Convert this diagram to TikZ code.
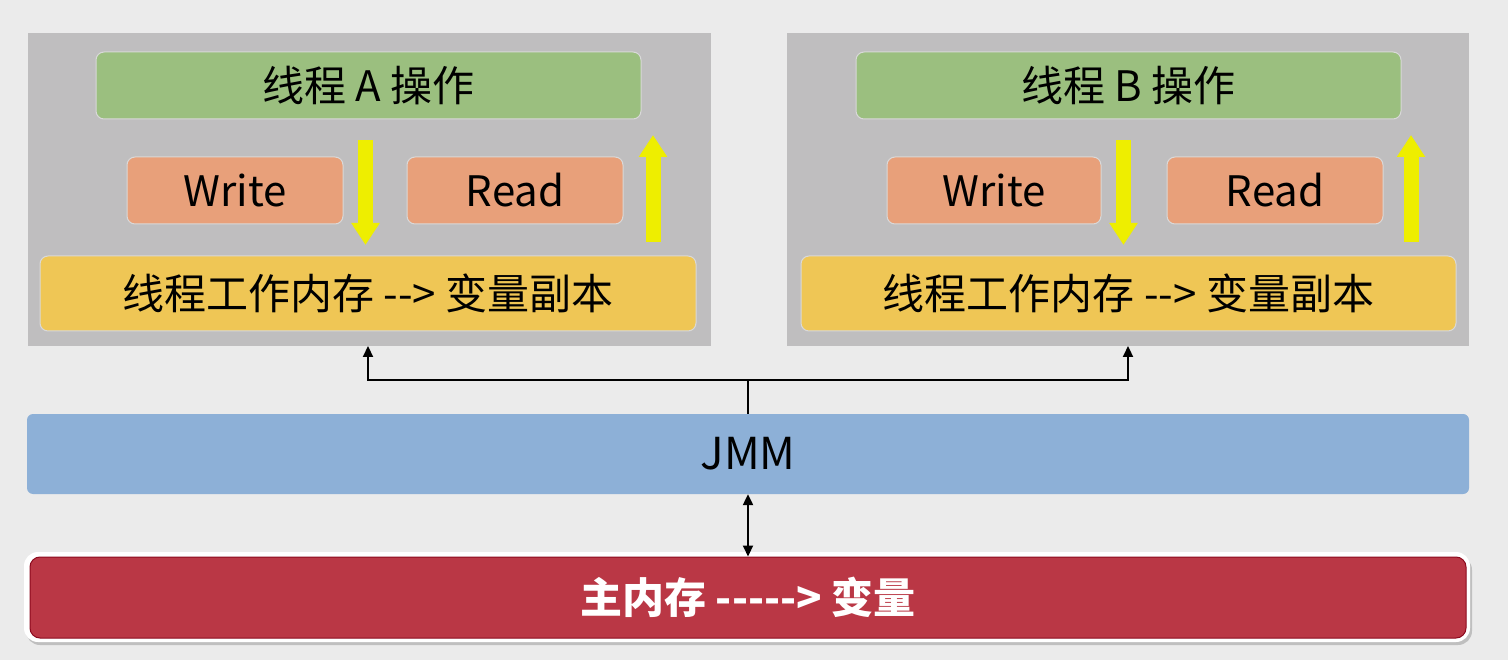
\documentclass[tikz,border=0pt]{standalone}
\usepackage{fontspec}
\setmainfont{Noto Sans CJK SC}
\usetikzlibrary{arrows.meta,calc}
\definecolor{bg}{RGB}{235,235,235}
\definecolor{panel}{RGB}{191,190,191}
\definecolor{grn}{RGB}{155,191,127}
\definecolor{org}{RGB}{232,160,122}
\definecolor{ylw}{RGB}{239,198,85}
\definecolor{arr}{RGB}{238,238,0}
\definecolor{blu}{RGB}{141,176,215}
\definecolor{red}{RGB}{186,55,69}
\definecolor{dred}{RGB}{140,10,30}
\tikzset{
  x=1pt,y=-1pt,
  panelbox/.style={fill=panel,draw=none},
  boxbase/.style={rounded corners=8pt,draw=white!85!black,line width=1pt,text=black},
  greenbox/.style={boxbase,fill=grn,font=\fontsize{42}{46}\selectfont},
  opbox/.style={boxbase,fill=org,font=\fontsize{42}{46}\selectfont},
  ylwbox/.style={boxbase,fill=ylw,font=\fontsize{42}{46}\selectfont},
  yarrow/.style={draw=arr,line width=15pt,-{Triangle[width=27pt,length=22pt]}},
  conn/.style={draw=black,line width=2.2pt},
  tip/.style={-{Triangle[width=10pt,length=11pt]}},
}
\begin{document}
\begin{tikzpicture}
\useasboundingbox[fill=bg] (0,0) rectangle (1508,660);
% panels
\fill[panelbox] (28,33) rectangle (711,346);
\fill[panelbox] (787,33) rectangle (1469,346);
\coordinate (pA) at (368,346);
\coordinate (pB) at (1128,346);
% left panel
\node[greenbox,minimum width=545pt,minimum height=67pt] (gA) at (368.5,85.5) {线程 A 操作};
\node[opbox,minimum width=216pt,minimum height=67pt] (wA) at (235,190.5) {Write};
\node[opbox,minimum width=216pt,minimum height=67pt] (rA) at (515,190.5) {Read};
\node[ylwbox,minimum width=656pt,minimum height=75pt] (yA) at (368,293.5) {线程工作内存 -{}-> 变量副本};
\coordinate (dA1) at (365.5,140);
\coordinate (dA2) at (365.5,245);
\coordinate (uA1) at (653,242);
\coordinate (uA2) at (653,135);
\draw[yarrow] (dA1) -- (dA2);
\draw[yarrow] (uA1) -- (uA2);
% right panel
\node[greenbox,minimum width=545pt,minimum height=67pt] (gB) at (1128.5,85.5) {线程 B 操作};
\node[opbox,minimum width=214pt,minimum height=67pt] (wB) at (994,190.5) {Write};
\node[opbox,minimum width=216pt,minimum height=67pt] (rB) at (1275,190.5) {Read};
\node[ylwbox,minimum width=655pt,minimum height=75pt] (yB) at (1128.5,293.5) {线程工作内存 -{}-> 变量副本};
\coordinate (dB1) at (1123.5,140);
\coordinate (dB2) at (1123.5,245);
\coordinate (uB1) at (1411,242);
\coordinate (uB2) at (1411,135);
\draw[yarrow] (dB1) -- (dB2);
\draw[yarrow] (uB1) -- (uB2);
% JMM
\node[fill=blu,rounded corners=6pt,minimum width=1442pt,minimum height=80pt,font=\fontsize{44}{48}\selectfont] (jmm) at (748,454) {JMM};
% main memory
\fill[black!25,rounded corners=14pt] (26,556) rectangle (1472,645);
\fill[white,rounded corners=14pt] (24,552) rectangle (1470,642);
\node[fill=red,draw=dred,line width=1pt,rounded corners=10pt,minimum width=1436pt,minimum height=81pt,text=white,font=\bfseries\fontsize{42}{46}\selectfont] (mem) at (748,597.5) {主内存 -{}-{}-{}-{}-> 变量};
% connectors
\coordinate (j) at (748,380);
\draw[conn] (jmm.north -| j) -- (j);
\draw[conn,tip] (j) -| (pA);
\draw[conn,tip] (j) -| (pB);
\draw[conn,{Triangle[width=10pt,length=11pt]}-{Triangle[width=10pt,length=11pt]}] (jmm.south) -- (mem.north);
\end{tikzpicture}
\end{document}
